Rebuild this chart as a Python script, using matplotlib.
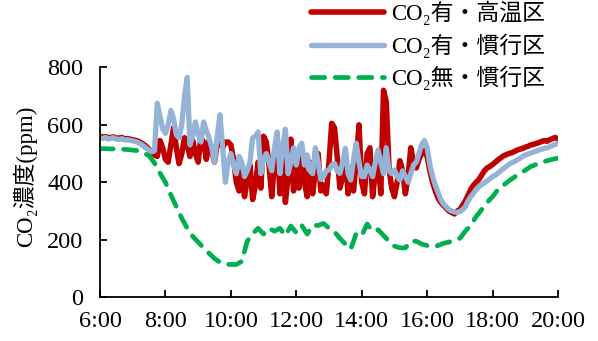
import numpy as np
import matplotlib
matplotlib.use("Agg")
import matplotlib.pyplot as plt

# ---- data ----
series_labels = ["CO₂有・高温区", "CO₂有・慣行区", "CO₂無・慣行区"]
x_tick_labels = ["6:00", "8:00", "10:00", "12:00", "14:00", "16:00", "18:00", "20:00"]
x_tick_hours = [6, 8, 10, 12, 14, 16, 18, 20]
y_ticks = [0, 200, 400, 600, 800]

# 5-minute readings, 6:00 .. 20:00
red_high_temp = [
    560, 557, 559, 555, 556, 558, 553, 554, 556, 551, 552, 550, 548,
    546, 543, 538, 532, 524, 515, 505, 495, 490, 545, 520, 480,
    470, 530, 590, 520, 465, 500, 555, 530, 490, 545, 500, 470,
    555, 540, 480, 545, 510, 470, 535, 545, 520, 540, 540, 530,
    480, 400, 370, 440, 350, 410, 460, 340, 390, 470, 380, 560,
    540, 460, 350, 470, 550, 360, 500, 330, 420, 550, 370, 480,
    380, 500, 400, 350, 470, 360, 440, 500, 370, 390, 360, 470,
    605, 590, 490, 380, 420, 500, 360, 450, 370, 480, 600, 400,
    360, 500, 520, 350, 440, 470, 360, 720, 680, 450, 380, 350,
    400, 475, 440, 360, 420, 520, 470, 450, 480, 500, 510, 490,
    440, 400, 370, 345, 330, 320, 310, 300, 295, 290, 300, 305,
    320, 335, 355, 375, 390, 400, 410, 425, 440, 450, 455, 462,
    470, 478, 485, 492, 496, 500, 503, 507, 512, 515, 518, 522,
    525, 530, 532, 535, 538, 542, 545, 543, 548, 552, 556, 550,
]
blue_conventional = [
    555, 552, 556, 551, 553, 555, 550, 549, 552, 547, 548, 546, 544,
    542, 538, 533, 526, 518, 512, 506, 510, 675, 630, 585, 570,
    600, 650, 620, 565, 555, 600, 700, 765, 530, 560, 610, 570,
    540, 610, 580, 555, 520, 470, 560, 635, 520, 400, 470, 500,
    460, 430, 490, 470, 420, 440, 470, 555, 560, 575, 430, 480,
    500, 470, 440, 520, 575, 430, 520, 585, 430, 470, 520, 460,
    520, 536, 460, 495, 440, 430, 520, 470, 410, 420, 440, 443,
    460, 466, 440, 431, 470, 518, 430, 408, 480, 536, 470, 420,
    420, 460, 443, 420, 470, 512, 470, 430, 520, 440, 430, 443,
    420, 408, 440, 420, 400, 430, 460, 470, 500, 530, 545, 520,
    460, 420, 390, 365, 340, 325, 315, 305, 300, 297, 295, 298,
    305, 315, 335, 350, 362, 375, 385, 392, 398, 405, 412, 420,
    425, 432, 440, 448, 455, 462, 468, 472, 478, 483, 490, 495,
    498, 502, 505, 508, 512, 515, 518, 520, 524, 528, 532, 536,
]
# 10-minute readings, 6:00 .. 20:00
green_no_co2 = [
    517, 517, 516, 516, 515, 514,
    512, 510, 503, 492, 467, 432,
    400, 356, 315, 275, 240, 212,
    192, 172, 153, 135, 122, 115,
    114, 114, 125, 195, 222, 240,
    220, 240, 230, 240, 215, 248,
    225, 250, 220, 250, 250, 257,
    240, 228, 205, 185, 168, 222,
    215, 255, 230, 235, 215, 195,
    178, 172, 172, 195, 195, 185,
    180, 176, 180, 188, 192, 199,
    205, 230, 250, 281, 305, 330,
    350, 375, 390, 405, 418, 430,
    442, 455, 462, 470, 475, 480,
    484,
]

t5 = 6 + np.arange(len(red_high_temp)) * 5 / 60
t10 = 6 + np.arange(len(green_no_co2)) * 10 / 60

plt.rcParams['lines.scale_dashes'] = False
FAM = ['Liberation Serif', 'Noto Sans CJK JP']
plt.rcParams['font.family'] = FAM

W, H = 598, 341
fig = plt.figure(figsize=(W / 100, H / 100), dpi=100)
ax = fig.add_axes([100 / W, 1 - 297.3 / H, (558 - 100) / W, (297.3 - 67.3) / H])

ax.plot(t5, red_high_temp, color='#C00000', lw=4.0, solid_joinstyle='round',
        solid_capstyle='round', label=series_labels[0])
ax.plot(t5, blue_conventional, color='#95B3D7', lw=3.8, solid_joinstyle='round',
        solid_capstyle='round', label=series_labels[1])
ax.plot(t10, green_no_co2, color='#00B050', lw=3.4, dashes=(9.5, 7.5),
        dash_capstyle='round', label=series_labels[2])

ax.set_xlim(6, 20)
ax.set_ylim(0, 800)
ax.set_xticks(x_tick_hours)
ax.set_xticklabels(x_tick_labels)
ax.set_yticks(y_ticks)
for s in ['top', 'right']:
    ax.spines[s].set_visible(False)
for s in ['left', 'bottom']:
    ax.spines[s].set_linewidth(1.3)
ax.tick_params(axis='both', direction='in', length=5, width=1.3, labelsize=17.5, colors='black')
ax.tick_params(axis='y', pad=12)
ax.tick_params(axis='x', pad=10)

fig.text(25 / W, 1 - 176 / H, "CO₂濃度(ppm)", rotation=90, ha='center', va='center',
         fontsize=16.5, family=FAM)

leg = fig.legend(loc='upper left', bbox_to_anchor=(310 / W, 1 - 0 / H), frameon=False,
                 handlelength=3.2, handletextpad=0.3, labelspacing=0.35,
                 prop={'family': FAM, 'size': 16.5}, borderaxespad=0, borderpad=0.05)

fig.savefig("out.png", dpi=100)
